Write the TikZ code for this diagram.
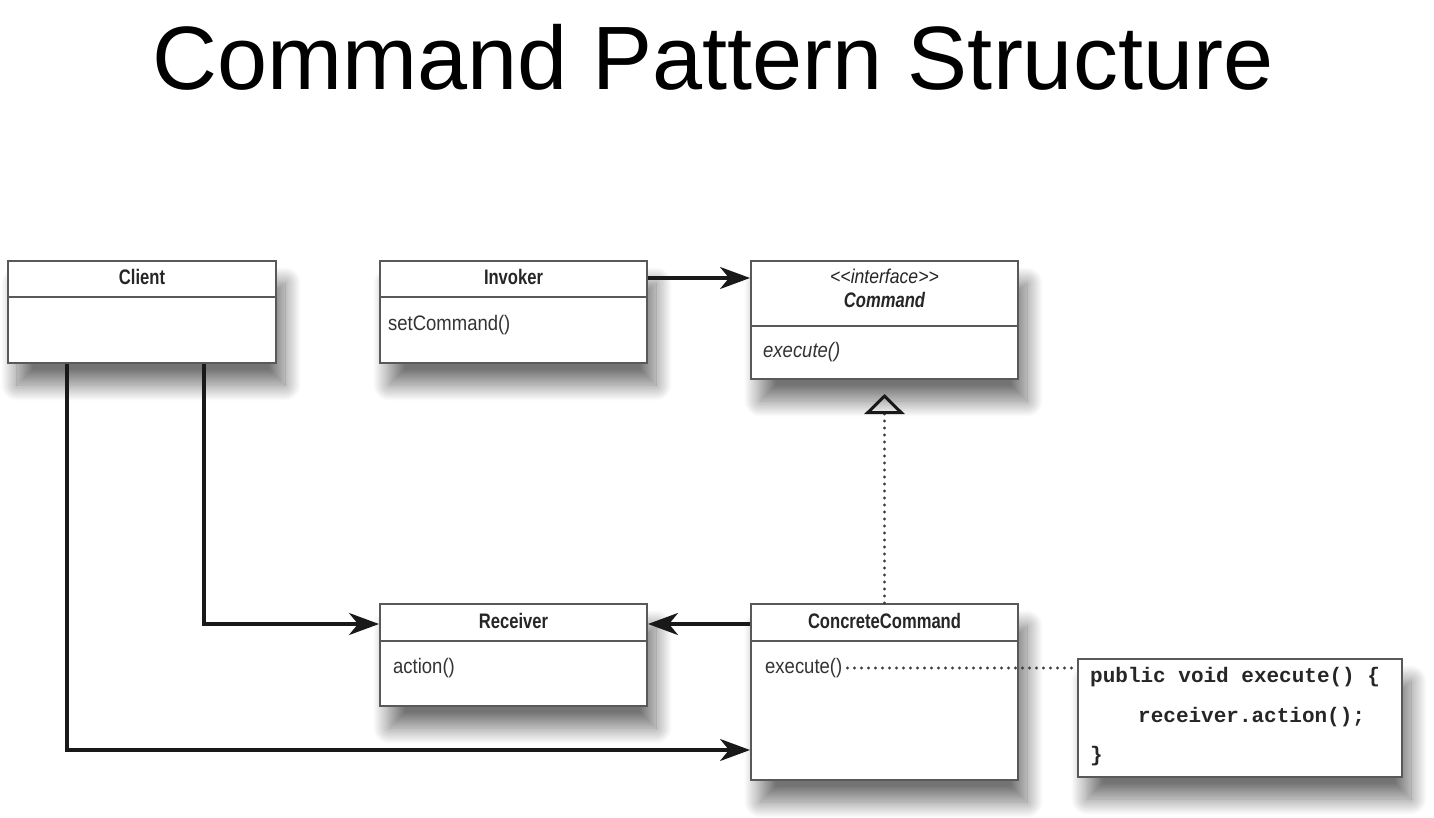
\documentclass[tikz,border=0pt]{standalone}
\usepackage{fontspec}
\setmainfont{Liberation Sans}
\newfontfamily\umlfont[FakeStretch=0.88]{Liberation Sans}
\newfontfamily\umlbold[FakeStretch=0.79]{Liberation Sans}
\newfontfamily\codefont{Liberation Mono}
\usetikzlibrary{arrows.meta,shadows.blur}

\tikzset{
  classbox/.style={draw=black!65, line width=2pt, fill=white, anchor=north west, inner sep=0pt,
    blur shadow={shadow xshift=9pt, shadow yshift=-22pt, shadow blur radius=16pt,
      shadow blur steps=24, shadow opacity=55}},
  divider/.style={draw=black!65, line width=2pt},
  classname/.style={font=\umlbold\bfseries\fontsize{21}{25}\selectfont, inner sep=0pt, text=black!85},
  method/.style={font=\umlfont\fontsize{21}{25}\selectfont, anchor=west, inner sep=0pt, text=black!80},
  codeline/.style={font=\codefont\bfseries\fontsize{21}{25}\selectfont, anchor=west, inner sep=0pt, text=black!85},
  assoc/.style={line width=3.2pt, draw=black!90, -{Stealth[length=30pt, width=22pt, inset=9pt]}},
  dotline/.style={line width=3.2pt, draw=black!75, dash pattern=on 0pt off 7pt, line cap=round},
  realize/.style={dotline, -{Triangle[open, length=20pt, width=40pt, line width=3pt, color=black!90]}}
}

\begin{document}
\begin{tikzpicture}[x=1pt, y=-1pt]
  \useasboundingbox (0,0) rectangle (1434,818);

  % Title
  \node[font=\fontsize{90}{100}\selectfont, anchor=base] (title) at (713,90) {Command Pattern Structure};

  % Class boxes
  \node[classbox, minimum width=268pt, minimum height=102pt] (client) at (7,260) {};
  \node[classbox, minimum width=267pt, minimum height=102pt] (invoker) at (379,260) {};
  \node[classbox, minimum width=267pt, minimum height=118pt] (command) at (750,260) {};
  \node[classbox, minimum width=267pt, minimum height=102pt] (receiver) at (379,603) {};
  \node[classbox, minimum width=267pt, minimum height=176pt] (concrete) at (750,603) {};
  \node[classbox, minimum width=324pt, minimum height=118pt] (code) at (1077,658) {};

  % Dividers
  \draw[divider] ([yshift=-37pt]client.north west) -- ([yshift=-37pt]client.north east);
  \draw[divider] ([yshift=-37pt]invoker.north west) -- ([yshift=-37pt]invoker.north east);
  \draw[divider] ([yshift=-66pt]command.north west) -- ([yshift=-66pt]command.north east);
  \draw[divider] ([yshift=-38pt]receiver.north west) -- ([yshift=-38pt]receiver.north east);
  \draw[divider] ([yshift=-38pt]concrete.north west) -- ([yshift=-38pt]concrete.north east);

  % Class names
  \node[classname] (clientname) at ([yshift=-17pt]client.north) {Client};
  \node[classname] (invokername) at ([yshift=-17pt]invoker.north) {Invoker};
  \node[method, anchor=center, font=\umlfont\itshape\fontsize{20}{24}\selectfont, text=black!85]
    (commandstereo) at ([yshift=-16pt]command.north) {<\kern0pt<interface>\kern0pt>};
  \node[classname, font=\umlbold\bfseries\itshape\fontsize{21}{25}\selectfont]
    (commandname) at ([yshift=-40pt]command.north) {Command};
  \node[classname] (receivername) at ([yshift=-18pt]receiver.north) {Receiver};
  \node[classname] (concretename) at ([yshift=-18pt]concrete.north) {ConcreteCommand};

  % Methods
  \node[method] (invokerset) at ([xshift=9pt, yshift=-65pt]invoker.north west) {setCommand()};
  \node[method, font=\umlfont\itshape\fontsize{21}{25}\selectfont] (commandexec) at ([xshift=13pt, yshift=-92pt]command.north west) {execute()};
  \node[method] (receiveraction) at ([xshift=14pt, yshift=-65pt]receiver.north west) {action()};
  \node[method] (concreteexec) at ([xshift=15pt, yshift=-65pt]concrete.north west) {execute()};

  % Code note
  \node[codeline] (codeopen) at ([xshift=13pt, yshift=-19pt]code.north west) {public void execute() \{};
  \node[codeline] (codebody) at ([xshift=61pt, yshift=-59pt]code.north west) {receiver.action();};
  \node[codeline] (codeclose) at ([xshift=13pt, yshift=-98pt]code.north west) {\}};

  % Connectors
  \draw[assoc] ([yshift=-18pt]invoker.north east) -- ([yshift=-18pt]command.north west);
  \coordinate (commandtip) at ([yshift=-14pt]command.south);
  \draw[realize] (concrete.north) -- (commandtip);
  \draw[assoc] ([xshift=197pt]client.south west) |- ([yshift=-21pt]receiver.north west);
  \draw[assoc] ([xshift=60pt]client.south west) |- ([yshift=-147pt]concrete.north west);
  \draw[assoc] ([yshift=-21pt]concrete.north west) -- ([yshift=-21pt]receiver.north east);
  \draw[dotline] ([xshift=5pt]concreteexec.east) -- (concreteexec.east -| code.west);
\end{tikzpicture}
\end{document}
